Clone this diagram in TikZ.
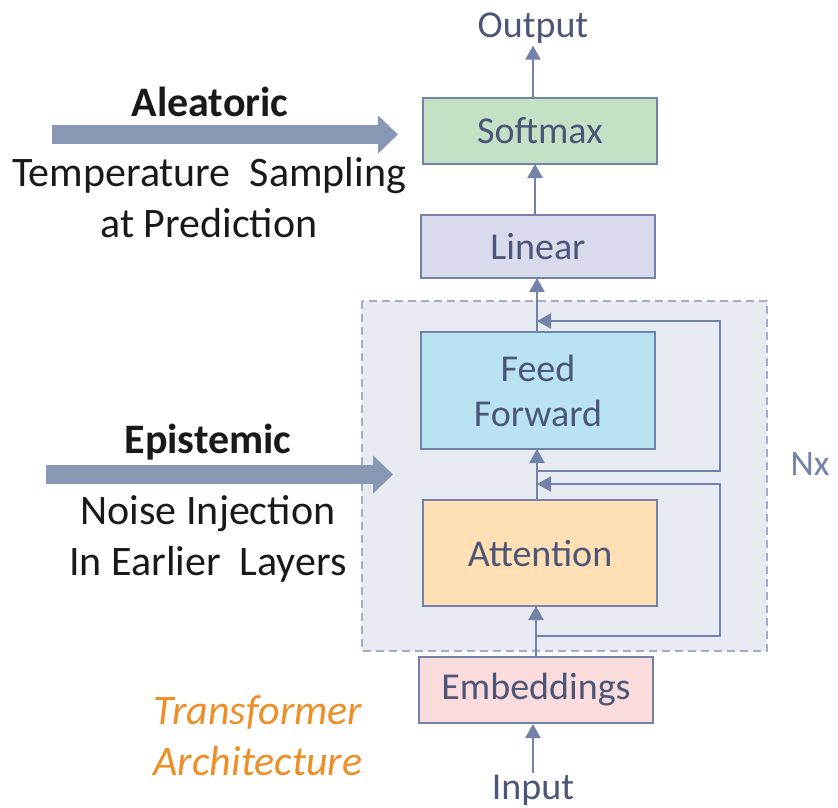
\documentclass[tikz,border=0pt]{standalone}
\usepackage{fontspec}
\setmainfont{Carlito}
\usetikzlibrary{arrows.meta}
\definecolor{linecol}{HTML}{7382A8}
\definecolor{bigarr}{HTML}{8898B4}
\definecolor{labcol}{HTML}{4B5678}
\definecolor{softfill}{HTML}{C4E1C5}
\definecolor{linfill}{HTML}{D9DBEC}
\definecolor{fffill}{HTML}{B9E2F3}
\definecolor{attfill}{HTML}{FFDFB3}
\definecolor{embfill}{HTML}{FBDCDC}
\definecolor{blockfill}{HTML}{E7EAF0}
\definecolor{blockdraw}{HTML}{A2AEC6}
\definecolor{orangetxt}{HTML}{EE8E26}
\newcommand{\bigfont}{\fontsize{38}{46}\selectfont}
\newcommand{\sidefont}{\fontsize{42}{51}\selectfont}
\tikzset{
  layer/.style={draw=linecol,line width=2pt,minimum width=234pt,text=labcol,font=\bigfont,align=center},
  flow/.style={draw=linecol,line width=2.5pt,-{Triangle[length=14pt,width=15pt]}},
  side/.style={font=\sidefont,text=black!90,align=center},
  fat/.style={draw=bigarr,line width=19pt,-{Triangle[length=20pt,width=37pt]}}
}
\begin{document}
\begin{tikzpicture}[x=1pt,y=-1pt]
  \useasboundingbox (0,0) rectangle (838,808);
  % repeated block
  \draw[fill=blockfill,draw=blockdraw,line width=1.5pt,dash pattern=on 8pt off 5pt](362,301)rectangle(767,651);
  \node[text=linecol,font=\fontsize{36}{42}\selectfont](nx)at(810,464){Nx};
  % layers
  \node[layer,fill=softfill,minimum height=66pt](soft)at(540,131){Softmax};
  \node[layer,fill=linfill,minimum height=63pt](lin)at(538,246.5){Linear};
  \node[layer,fill=fffill,minimum height=117pt](ff)at(538,390.5){Feed\\[-1pt]Forward};
  \node[layer,fill=attfill,minimum height=106pt](att)at(540,553){Attention};
  \node[layer,fill=embfill,minimum height=66pt](emb)at(536,690){Embeddings};
  \node[text=labcol,font=\bigfont,inner sep=2pt](out)at(533,28){Output};
  \node[text=labcol,font=\bigfont,inner sep=2pt](in)at(533,790){Input};
  % main flow
  \draw[flow](in.north)--(in.north|-emb.south);
  \draw[flow](536,657)--(536,606);
  \draw[flow](537,500)--(537,449);
  \draw[flow](537,332)--(537,278);
  \draw[flow](535,215)--(535,164);
  \draw[flow](533,98)--(out.south);
  % residual paths
  \coordinate(r1s)at(536,636);
  \coordinate(r1e)at(537,484);
  \coordinate(r2s)at(537,471);
  \coordinate(r2e)at(537,321);
  \draw[flow](r1s)-|(720,560)|-(r1e);
  \draw[flow](r2s)-|(720,400)|-(r2e);
  % uncertainty sources
  \node[side,font=\sidefont\bfseries](ale)at(210,102){Aleatoric};
  \node[side](aletxt)at(209,198){Temperature\ \ Sampling\\at Prediction};
  \coordinate(a1)at(52,134.5);
  \coordinate(a2)at(398,134.5);
  \draw[fat](a1)--(a2);
  \node[side,font=\sidefont\bfseries](epi)at(208,442){Epistemic};
  \node[side](epitxt)at(208,539){Noise Injection\\In Earlier\ \ Layers};
  \coordinate(e1)at(46,474.5);
  \coordinate(e2)at(393,474.5);
  \draw[fat](e1)--(e2);
  \node[text=orangetxt,font=\sidefont\itshape,align=center](arch)at(258,736){Transformer\\Architecture};
\end{tikzpicture}
\end{document}
